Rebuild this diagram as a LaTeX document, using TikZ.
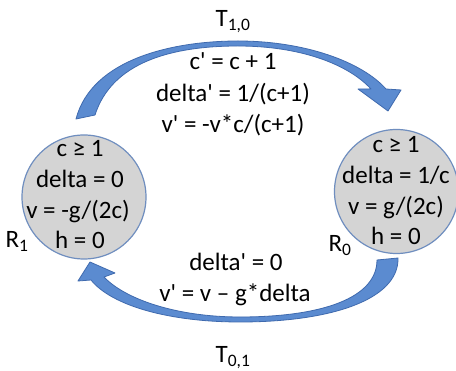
\documentclass[tikz,border=0pt]{standalone}
\usepackage{fontspec}
\setmainfont{Carlito}
\newcommand{\ap}{\textquotesingle}
\definecolor{arrowfill}{HTML}{5B8BD0}
\definecolor{arrowedge}{HTML}{3F6AAE}
\definecolor{circfill}{HTML}{D4D4D4}
\definecolor{circedge}{HTML}{6F8EBF}
\tikzset{
  txt/.style={anchor=base, inner sep=0pt, font=\fontsize{25}{30}\selectfont},
  region/.style={circle, draw=circedge, line width=1.2pt, fill=circfill, minimum size=124pt, inner sep=0pt},
  bigarrow/.style={fill=arrowfill, draw=arrowedge, line width=0.8pt, line join=round}
}
\begin{document}
\begin{tikzpicture}[x=1pt, y=-1pt]
\useasboundingbox (0,0) rectangle (456,371);
\fill[white] (0,0) rectangle (456,371);
% circles
\node[region] (r1) at (84,197) {};
\node[region] (r0) at (396.5,191.5) {};
% top arrow T_{1,0}
\draw[bigarrow] (76,119) .. controls (92,58) and (175,41) .. (238,41)
  .. controls (305,41) and (362,62) .. (386,89)
  -- (401,90) -- (388,111) -- (358,89) -- (371,89)
  .. controls (348,64) and (300,46) .. (238,46)
  .. controls (172,46) and (112,62) .. (95,115) -- cycle;
% bottom arrow T_{0,1}
\draw[bigarrow] (398,258) .. controls (399,300) and (330,322) .. (240,322)
  .. controls (170,322) and (112,306) .. (91,280)
  -- (78,281) -- (90,262) -- (115,273) -- (104,277)
  .. controls (126,300) and (178,317) .. (240,317)
  .. controls (322,317) and (377,298) .. (377,260) -- cycle;
% left circle text
\node[txt] (l1) at (80,157) {c ≥ 1};
\node[txt] (l2) at (80,188) {delta = 0};
\node[txt] (l3) at (78,219) {v = -g/(2c)};
\node[txt] (l4) at (80,249) {h = 0};
\node[txt] (lab1) at (17,248) {R\textsubscript{1}};
% right circle text
\node[txt] (q1) at (396,153) {c ≥ 1};
\node[txt] (q2) at (396,184) {delta = 1/c};
\node[txt] (q3) at (396,214.5) {v = g/(2c)};
\node[txt] (q4) at (396,245) {h = 0};
\node[txt] (lab0) at (340,252) {R\textsubscript{0}};
% top labels
\node[txt] (t10) at (233,27) {T\textsubscript{1,0}};
\node[txt] (u1) at (233,70) {c\ap{} = c + 1};
\node[txt] (u2) at (233,102) {delta\ap{} = 1/(c+1)};
\node[txt] (u3) at (233,133) {v\ap{} = -v*c/(c+1)};
% bottom labels
\node[txt] (b1) at (236,271) {delta\ap{} = 0};
\node[txt] (b2) at (235,302) {v\ap{} = v – g*delta};
\node[txt] (t01) at (233,363) {T\textsubscript{0,1}};
\end{tikzpicture}
\end{document}
